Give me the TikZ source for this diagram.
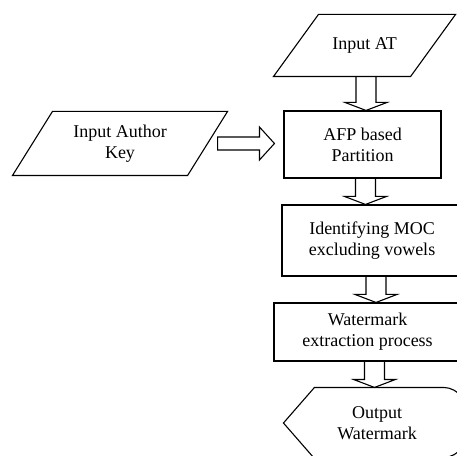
\documentclass[tikz,border=0pt]{standalone}
\usepackage{fontspec}
\setmainfont{Liberation Serif}
\usetikzlibrary{calc}

\tikzset{
  box/.style={draw, line width=1.1pt, align=center, inner sep=0pt,
    font=\fontsize{18}{21}\selectfont},
  iobox/.style={box, draw=none},
  fat/.style={line width=1.1pt}
}

% parallelogram round node #1, slant #2
\newcommand{\para}[2]{%
  \draw[fat] (#1.south west) -- ($(#1.north west)+(#2,0)$) -- (#1.north east)
    -- ($(#1.south east)+(-#2,0)$) -- cycle;}
% hollow block arrow downwards: from #1 to #2, shifted by #3
\newcommand{\fatdown}[3]{%
  \draw[fat] ($(#1.center |- #1.south)+(#3-10,0)$) -- ($(#1.center |- #2.north)+(#3-10,8)$)
    -- ($(#1.center |- #2.north)+(#3-21,8)$) -- ($(#1.center |- #2.north)+(#3,0)$)
    -- ($(#1.center |- #2.north)+(#3+21,8)$) -- ($(#1.center |- #2.north)+(#3+10,8)$)
    -- ($(#1.center |- #1.south)+(#3+10,0)$);}
% hollow block arrow to the right
\newcommand{\fatright}[2]{%
  \draw[fat] ($(#1.east)+(-10,6.5)$) -- ($(#2.west |- #1.east)+(-24,6.5)$)
    -- ($(#2.west |- #1.east)+(-24,16.5)$) -- ($(#2.west |- #1.east)+(-9,0)$)
    -- ($(#2.west |- #1.east)+(-24,-16.5)$) -- ($(#2.west |- #1.east)+(-24,-6.5)$)
    -- ($(#1.east)+(-10,-6.5)$) -- cycle;}

\begin{document}
\begin{tikzpicture}[x=1pt,y=1pt]
\path[use as bounding box, clip] (0,0) rectangle (457,455);

\node[iobox, minimum width=181pt, minimum height=61pt] (inat) at (364.5,409.5) {Input AT};
\para{inat}{45}
\node[iobox, minimum width=214pt, minimum height=63pt] (key) at (120,311.5) {Input Author\\Key};
\para{key}{40}
\node[box, minimum width=157pt, minimum height=67pt] (afp) at (362.5,310.5) {AFP based\\Partition};
\node[box, minimum width=180pt, minimum height=71pt] (moc) at (372,214.5) {Identifying MOC\\excluding vowels};
\node[box, minimum width=187pt, minimum height=58pt] (wm) at (367.5,123) {Watermark\\extraction process};
\node[box, draw=none, minimum width=186pt, minimum height=70pt] (outw) at (377,32) {Output\\Watermark};
\draw[fat] ($(outw.north west)+(31,0)$) -- ($(outw.north east)+(-27,0)$)
  arc[start angle=90, end angle=-90, x radius=27, y radius=35]
  -- ($(outw.south west)+(31,0)$) -- (outw.west) -- cycle;

\fatdown{inat}{afp}{1.5}
\fatdown{afp}{moc}{3}
\fatdown{moc}{wm}{4}
\fatdown{wm}{outw}{7}
\fatright{key}{afp}
\end{tikzpicture}
\end{document}
